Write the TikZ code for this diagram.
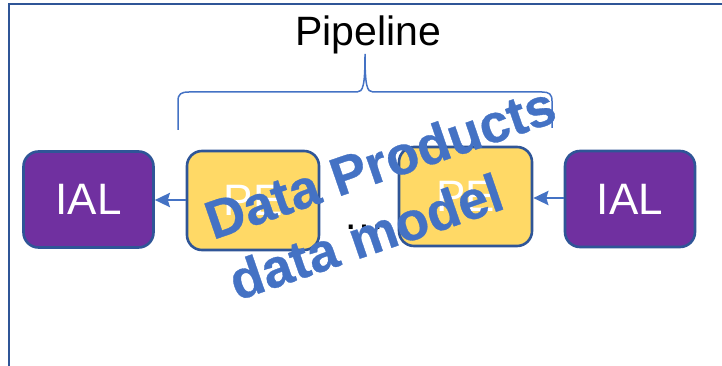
\documentclass[tikz,border=0pt]{standalone}
\usepackage{fontspec}
\setmainfont{Liberation Sans}
\newfontfamily\stampfont[FakeBold=0.6]{Liberation Sans Bold}
\usetikzlibrary{arrows.meta}

\definecolor{edgeblue}{HTML}{2F5597}
\definecolor{accent}{HTML}{4472C4}
\definecolor{ialfill}{HTML}{7030A0}
\definecolor{pefill}{HTML}{FFD966}

\tikzset{
  box/.style={draw=edgeblue, line width=2.6pt, rounded corners=15pt,
    minimum width=130pt, minimum height=96pt, inner sep=0pt,
    text=white, font=\fontsize{44}{50}\selectfont},
  ialbox/.style={box, fill=ialfill},
  pebox/.style={box, fill=pefill},
  flow/.style={draw=accent, line width=2.8pt,
    -{Stealth[length=15pt,width=14pt,inset=2pt]}},
  bracket/.style={draw=accent, line width=1.5pt},
  stamp/.style={text=accent, inner sep=0pt, anchor=base west, rotate=19,
    font=\stampfont\fontsize{54}{62}\selectfont},
}

\begin{document}
\begin{tikzpicture}[x=1pt, y=-1pt]
  \useasboundingbox (0,0) rectangle (722,366);
  \clip (0,0) rectangle (722,366);

  % outer frame (only the top and left sides are inside the page)
  \draw[edgeblue, line width=2.4pt] (9,370) -- (9,4) -- (730,4);

  % title and its brace
  \node[font=\fontsize{41}{46}\selectfont, anchor=base, inner sep=0pt]
    (title) at (368,46) {Pipeline};
  \draw[bracket] (178,130) -- (178,101)
    .. controls (178,94) and (181,92) .. (189,92) -- (357,92)
    .. controls (363,92) and (365,86) .. (365,54)
    .. controls (365,86) and (367,92) .. (373,92) -- (542,92)
    .. controls (549,92) and (552,94) .. (552,101) -- (552,128);

  % stages
  \node[ialbox] (ial1) at (88.5,199.5) {IAL};
  \node[pebox, minimum width=132pt, minimum height=99pt] (pe1) at (253,200.5) {PE};
  \node[pebox, minimum width=133pt, minimum height=99pt] (pe2) at (465.5,196.5) {PE};
  \node[ialbox] (ial2) at (630,199) {IAL};

  \node[font=\fontsize{42}{50}\selectfont, anchor=base west, inner sep=0pt]
    (gap) at (343,229) {…};

  % connectors
  \draw[flow] (pe1.west |- 0,200) -- (ial1.east |- 0,200);
  \draw[flow] (ial2.west |- 0,198) -- (pe2.east |- 0,198);

  % overlay label
  \node[stamp] (stamp1) at (213,240) {Data Products};
  \node[stamp] (stamp2) at (237,301) {data model};
\end{tikzpicture}
\end{document}
